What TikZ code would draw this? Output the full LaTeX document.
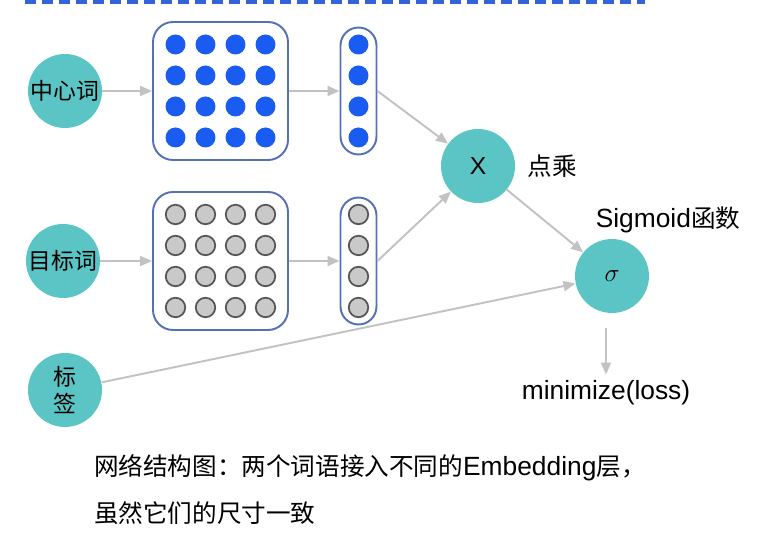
\documentclass[tikz,border=0pt]{standalone}
\usepackage{fontspec}
\setmainfont{Liberation Sans}
\newfontfamily\cjk{Noto Sans CJK SC}
\usepackage{xcolor}
\usepackage{tikz}
\usetikzlibrary{arrows.meta, positioning, calc}

\definecolor{tealc}{HTML}{5BC5C5}
\definecolor{boxc}{HTML}{5670B4}
\definecolor{dotb}{HTML}{1A5CF2}
\definecolor{dotg}{HTML}{C9C9C9}
\definecolor{dotgr}{HTML}{555555}
\definecolor{arrc}{HTML}{C2C2C2}
\definecolor{dashc}{HTML}{3462D8}

\begin{document}
\begin{tikzpicture}[
      x=0.02cm, y=-0.02cm,
      word/.style  ={circle, fill=tealc, minimum size=1.48cm, inner sep=0pt, font=\fontsize{13pt}{15pt}\selectfont\cjk},
      matbox/.style={rectangle, draw=boxc, line width=1.1pt, rounded corners=0.4cm, minimum width=2.7cm, minimum height=2.76cm},
      vecbox/.style={rectangle, draw=boxc, line width=1.1pt, rounded corners=0.36cm, minimum width=0.72cm, minimum height=2.54cm},
      arr/.style   ={-{Triangle[length=0.24cm, width=0.2cm]}, draw=arrc, line width=1.1pt},
      lbl/.style   ={font=\fontsize{14pt}{17pt}\selectfont},
      lat/.style   ={font=\fontsize{15pt}{18pt}\selectfont},
      bdot/.style  ={fill=dotb},
      gdot/.style  ={fill=dotg, draw=dotgr, line width=1pt}
    ]
    \useasboundingbox (0,0) rectangle (762,550);

    % Gestrichelte Linie oben
    \draw[dashc, line width=2.2pt, dash pattern=on 0.22cm off 0.12cm] (25,2) -- (645,2);

    % Eingaben
    \node[word]               (CW)  at (65,91)  {中心词};
    \node[word]               (TW)  at (63,261) {目标词};
    \node[word, align=center] (LB)  at (65,390) {标\\签};

    % Embedding-Matrizen und Vektoren
    \node[matbox] (M1) at (220.5,91)  {};
    \node[matbox] (M2) at (220.5,261) {};
    \node[vecbox] (V1) at (358.5,91)  {};
    \node[vecbox] (V2) at (358.5,261) {};

    \foreach \j in {-46.5,-15.5,15.5,46.5} {
      \foreach \i in {-45,-15,15,45} {
        \fill[bdot] ($(M1)+(\i,\j)$) circle (0.2cm);
        \filldraw[gdot] ($(M2)+(\i,\j)$) circle (0.195cm);
      }
      \fill[bdot] ($(V1)+(0,\j)$) circle (0.2cm);
      \filldraw[gdot] ($(V2)+(0,\j)$) circle (0.195cm);
    }

    % Punktprodukt und Sigmoid
    \node[word, font=\fontsize{14pt}{17pt}\selectfont] (X)   at (478,166) {X};
    \node[word, font=\fontsize{15pt}{17pt}\selectfont] (SIG) at (612,276) {$\sigma$};

    \node[lbl] (DC)   at (552,166) {\cjk 点乘};
    \node[lat] (SG)   at (668,220) {Sigmoid{\cjk\fontsize{14pt}{17pt}\selectfont 函数}};
    \node[lat] (LOSS) at (606,393) {minimize(loss)};
    \coordinate (SO) at ($(LOSS.north)+(0,-47)$);

    % Pfeile
    \draw[arr] (CW) -- (M1);
    \draw[arr] (M1) -- (V1);
    \draw[arr] (TW) -- (M2);
    \draw[arr] (M2) -- (V2);
    \draw[arr] (V1.east) -- (X);
    \draw[arr] (V2.east) -- (X);
    \draw[arr] (X) -- (SIG);
    \draw[arr] (LB) -- (SIG);
    \draw[arr] (SO) -- (LOSS.north);

    % Bildunterschrift
    \node[lbl, anchor=west] (CAP1) at (88,468) {{\cjk 网络结构图：两个词语接入不同的}{\fontsize{15pt}{17pt}\selectfont Embedding}{\cjk 层，}};
    \node[lbl, anchor=west] (CAP2) at (88,513) {\cjk 虽然它们的尺寸一致};

  \end{tikzpicture}
\end{document}
